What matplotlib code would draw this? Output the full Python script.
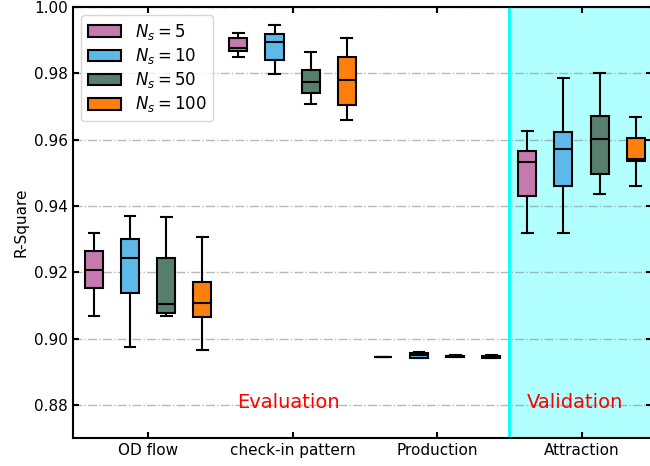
import numpy as np
import matplotlib
matplotlib.use('Agg')
import matplotlib.pyplot as plt
from matplotlib.patches import Patch

plt.rcParams['font.family'] = ['DejaVu Sans']

categories = ['OD flow', 'check-in pattern', 'Production', 'Attraction']
series_labels = [r'$N_s=5$', r'$N_s=10$', r'$N_s=50$', r'$N_s=100$']
colors = ['#c47aad', '#5db9e9', '#587e6e', '#ff7f0e']

# per series: [whislo, q1, med, q3, whishi] for each category
ns5 = [
    [0.9067, 0.9152, 0.9207, 0.9265, 0.9319],
    [0.9848, 0.9868, 0.9876, 0.9908, 0.9923],
    [0.8945, 0.8945, 0.8945, 0.8945, 0.8945],
    [0.9319, 0.9429, 0.9531, 0.9567, 0.9627],
]
ns10 = [
    [0.8974, 0.9138, 0.9244, 0.9301, 0.9371],
    [0.9797, 0.9841, 0.9893, 0.9920, 0.9945],
    [0.8941, 0.8942, 0.8950, 0.8957, 0.8958],
    [0.9319, 0.9461, 0.9573, 0.9623, 0.9787],
]
ns50 = [
    [0.9068, 0.9077, 0.9104, 0.9244, 0.9367],
    [0.9707, 0.9741, 0.9773, 0.9809, 0.9863],
    [0.8943, 0.8944, 0.8946, 0.8948, 0.8949],
    [0.9435, 0.9497, 0.9602, 0.9671, 0.9801],
]
ns100 = [
    [0.8965, 0.9065, 0.9107, 0.9170, 0.9305],
    [0.9659, 0.9705, 0.9781, 0.9849, 0.9905],
    [0.8940, 0.8942, 0.8944, 0.8946, 0.8949],
    [0.9461, 0.9537, 0.9541, 0.9604, 0.9668],
]
all_series = [ns5, ns10, ns50, ns100]

fig = plt.figure(figsize=(6.5, 4.66), dpi=100)
ax = fig.add_axes([73 / 650, 1 - 438 / 466, 579 / 650, 431 / 466])

offsets = [-0.375, -0.125, 0.125, 0.375]
width = 0.125
x = np.arange(len(categories))

for s, (series, col) in enumerate(zip(all_series, colors)):
    stats = []
    for vals in series:
        lo, q1, med, q3, hi = vals
        stats.append({'whislo': lo, 'q1': q1, 'med': med, 'q3': q3, 'whishi': hi, 'fliers': []})
    ax.bxp(stats, positions=x + offsets[s], widths=width, patch_artist=True,
           showfliers=False, capwidths=0.075,
           boxprops=dict(facecolor=col, edgecolor='black', linewidth=1.5),
           medianprops=dict(color='black', linewidth=1.5),
           whiskerprops=dict(color='black', linewidth=1.5),
           capprops=dict(color='black', linewidth=1.5))

ax.set_xlim(-0.52, 3.488)
ax.set_ylim(0.87, 1.0)
ax.axvspan(2.5, 3.488, color='cyan', alpha=0.3, lw=0, zorder=0)
ax.axvline(2.5, color='cyan', linewidth=2, zorder=1)

ax.set_yticks([0.88, 0.90, 0.92, 0.94, 0.96, 0.98, 1.00])
ax.set_xticks(x)
ax.set_xticklabels(categories, fontsize=11.5)
ax.yaxis.grid(True, linestyle='-.', color='gray', alpha=0.55, linewidth=1)
ax.set_axisbelow(True)
ax.tick_params(direction='in', top=True, right=True, labelsize=11, width=1.5, length=4)
for sp in ax.spines.values():
    sp.set_linewidth(1.5)
ax.set_ylabel('R-Square', fontsize=11)

ax.text(0.97, 0.879, 'Evaluation', color='red', fontsize=14, ha='center', va='baseline')
ax.text(2.955, 0.879, 'Validation', color='red', fontsize=14, ha='center', va='baseline')

handles = [Patch(facecolor=c, edgecolor='black', linewidth=1.5) for c in colors]
ax.legend(handles, series_labels, loc='upper left', fontsize=12, labelspacing=0.25)

fig.savefig('out.png', dpi=100)
